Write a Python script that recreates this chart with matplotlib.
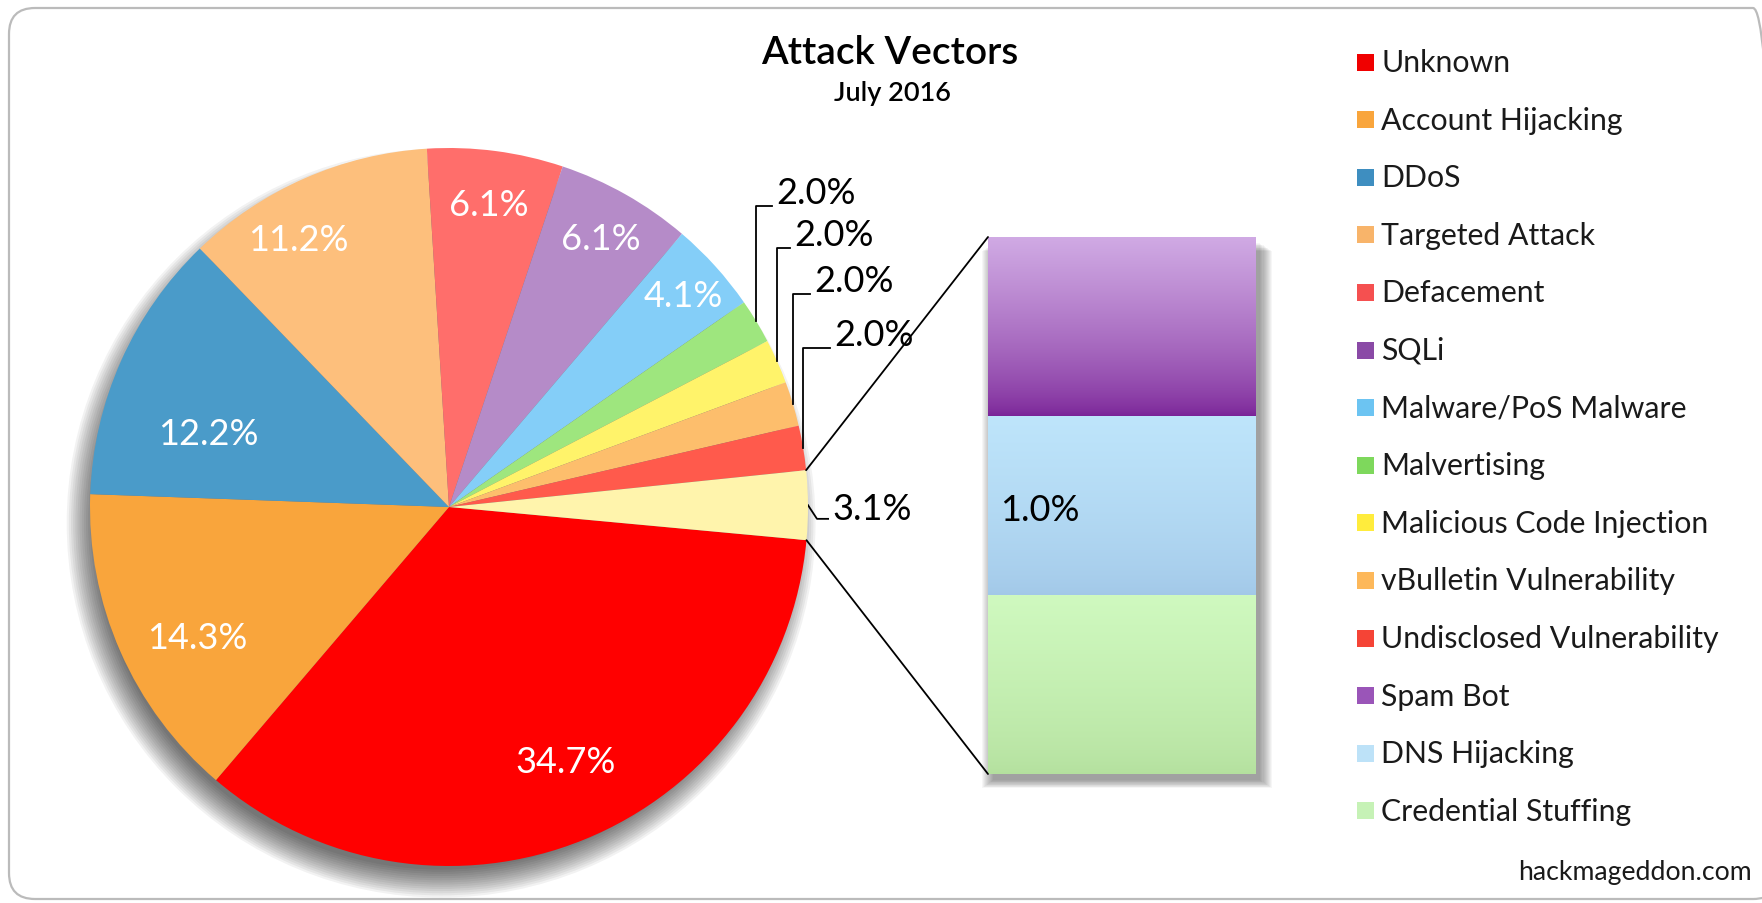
import numpy as np
import matplotlib
matplotlib.use("Agg")
import matplotlib.pyplot as plt
from matplotlib.patches import Circle, Rectangle, FancyBboxPatch, ConnectionPatch
from matplotlib.transforms import IdentityTransform
import matplotlib.colors as mcolors

plt.rcParams["font.family"] = ["Lato", "DejaVu Sans"]

# --- datos ---
CATEGORIAS = ["Unknown", "Account Hijacking", "DDoS", "Targeted Attack", "Defacement",
              "SQLi", "Malware/PoS Malware", "Malvertising", "Malicious Code Injection",
              "vBulletin Vulnerability", "Undisclosed Vulnerability", "Other"]
PCT = [34.7, 14.3, 12.2, 11.2, 6.1, 6.1, 4.1, 2.0, 2.0, 2.0, 2.0, 3.1]
COLORES = ["#FF0000", "#F9A53C", "#4A9BC9", "#FDBF7C", "#FF6E6B", "#B58BC8",
           "#84CEF8", "#9EE67E", "#FFF36A", "#FDBE6C", "#FF5A4C", "#FFF4AC"]

BARRA_CATS = ["Spam Bot", "DNS Hijacking", "Credential Stuffing"]
BARRA_PCT = [1.0, 1.0, 1.0]
# degradado (arriba, abajo) de cada segmento
BARRA_GRAD = [("#D0AAE4", "#7A2397"), ("#BEE5FB", "#A2C8E8"), ("#CFF9BF", "#B4E09E")]

LEYENDA = CATEGORIAS[:-1] + BARRA_CATS
LEYENDA_COL = ["#F00000", "#F9A53C", "#3E8EC0", "#F8B46A", "#F55050", "#8A4AA6",
               "#6CC4F2", "#7ED85C", "#FFEC3C", "#FDB85A", "#F54436", "#9A55B8",
               "#BDE2F8", "#C6F2B6"]

W, H = 1762, 904
FS = 26


def fx(x):
    return x / W


def fy(y):
    return 1 - y / H


fig = plt.figure(figsize=(W / 100, H / 100), dpi=100)
fig.patch.set_facecolor("white")

# marco redondeado
fig.add_artist(FancyBboxPatch((9, 4), 1770, 891, boxstyle="round,pad=0,rounding_size=26",
                              transform=IdentityTransform(), facecolor="none",
                              edgecolor="#BBBBBB", linewidth=1.6))

# --- torta ---
cx, cy, R = 449, 508, 359
ax = fig.add_axes([fx(cx - R), fy(cy + R), 2 * R / W, 2 * R / H])
wedges, _ = ax.pie(PCT, colors=COLORES, startangle=-5.3, counterclock=False, radius=1,
                   wedgeprops=dict(linewidth=0))
for w in wedges:
    w.set_zorder(3)
ax.set_xlim(-1, 1); ax.set_ylim(-1, 1)
ax.axis("off")

# sombra difusa (abajo a la izquierda)
for k in range(14):
    ax.add_patch(Circle((-0.022, -0.045), 0.965 + 0.006 * k, color="black", alpha=0.05,
                        linewidth=0, zorder=1, clip_on=False))


def en_cuna(w, f):
    # ángulo dentro de la cuña: f=0 en el inicio (sentido horario), f=1 al final
    ini, fin = w.theta2, w.theta1
    return np.deg2rad(ini + (fin - ini) * f)


# etiquetas internas: fracción angular y radio
F_ETIQ = [0.48, 0.43, 0.34, 0.36, 0.5, 0.5, 0.5]
R_ETIQ = [0.78, 0.79, 0.70, 0.855, 0.85, 0.86, 0.88]
for i, (f, r) in enumerate(zip(F_ETIQ, R_ETIQ)):
    a = en_cuna(wedges[i], f)
    ax.text(r * np.cos(a), r * np.sin(a), f"{PCT[i]:.1f}%", color="white",
            ha="center", va="center", fontsize=FS, zorder=5)

# etiquetas de 2.0% con líneas en codo
CODO_Y = [0.838, 0.721, 0.593, 0.443]
CODO_X = [0.90, 0.95, 1.006, 1.061]
for j, i in enumerate(range(7, 11)):
    a = en_cuna(wedges[i], 0.5)
    x0, y0 = np.cos(a), np.sin(a)
    ax.plot([x0, x0, CODO_X[j]], [y0, CODO_Y[j], CODO_Y[j]], color="black", lw=1.3,
            clip_on=False, zorder=4)
    ax.text(CODO_X[j] + 0.012, CODO_Y[j] + 0.038, f"{PCT[i]:.1f}%", ha="left",
            va="center", fontsize=FS, color="black")

# etiqueta de "Other"
a = en_cuna(wedges[11], 0.5)
x0, y0 = np.cos(a), np.sin(a)
ax.plot([x0, 1.025, 1.056], [y0, -0.033, -0.033], color="black", lw=1.3, clip_on=False)
ax.text(1.068, -0.004, f"{PCT[11]:.1f}%", ha="left", va="center", fontsize=FS)

# --- barra de desglose ---
bx0, bx1, by0, by1 = 988, 1255, 238, 775
ax2 = fig.add_axes([fx(bx0), fy(by1), (bx1 - bx0) / W, (by1 - by0) / H])
ax2.set_xlim(0, 1); ax2.set_ylim(0, sum(BARRA_PCT))
ax2.axis("off")

# sombra de la barra
for k in range(12):
    d = 0.004 * k
    ax2.add_patch(Rectangle((0.02 - d, -0.035 - d), 1.0 + 2 * d, sum(BARRA_PCT),
                            color="black", alpha=0.035, linewidth=0, zorder=0,
                            clip_on=False))

abajo = 0
for nombre, v, (c_arr, c_ab) in reversed(list(zip(BARRA_CATS, BARRA_PCT, BARRA_GRAD))):
    b = ax2.bar(0.5, v, width=1, bottom=abajo, color=c_ab, linewidth=0, zorder=2)[0]
    cmap = mcolors.LinearSegmentedColormap.from_list(nombre, [c_ab, c_arr])
    grad = np.linspace(0, 1, 256).reshape(-1, 1) ** 0.7
    im = ax2.imshow(grad, extent=(0, 1, abajo, abajo + v), origin="lower", cmap=cmap,
                    aspect="auto", zorder=3)
    im.set_clip_path(b)
    abajo += v
ax2.set_xlim(0, 1); ax2.set_ylim(0, sum(BARRA_PCT))
ax2.text(0.045, BARRA_PCT[-1] + BARRA_PCT[1] / 2 - 0.02, f"{BARRA_PCT[1]:.1f}%",
         ha="left", va="center", fontsize=FS, zorder=5)

# líneas que conectan la torta con la barra
ot = wedges[11]
for ang, yb in ((ot.theta2, 1), (ot.theta1, 0)):
    t = np.deg2rad(ang)
    con = ConnectionPatch(xyA=(np.cos(t), np.sin(t)), coordsA=ax.transData,
                          xyB=(0, yb), coordsB=ax2.transAxes, color="black", lw=1.3)
    fig.add_artist(con)

# --- títulos ---
fig.text(fx(890), fy(53), "Attack Vectors", ha="center", va="center", fontsize=28,
         fontweight="semibold")
fig.text(fx(892), fy(94), "July 2016", ha="center", va="center", fontsize=19.5,
         fontweight="semibold")

# --- leyenda ---
for i, (nombre, col) in enumerate(zip(LEYENDA, LEYENDA_COL)):
    yc = 63 + i * 57.6
    fig.add_artist(Rectangle((fx(1357), fy(yc + 8.5)), 17 / W, 17 / H, transform=fig.transFigure,
                             facecolor=col, edgecolor="none"))
    fig.text(fx(1381), fy(yc), nombre, ha="left", va="center", fontsize=21.8, color="#1A1A1A")

fig.text(fx(1752), fy(873), "hackmageddon.com", ha="right", va="center", fontsize=19.2,
         color="#1A1A1A")

fig.savefig("out.png", dpi=100)
